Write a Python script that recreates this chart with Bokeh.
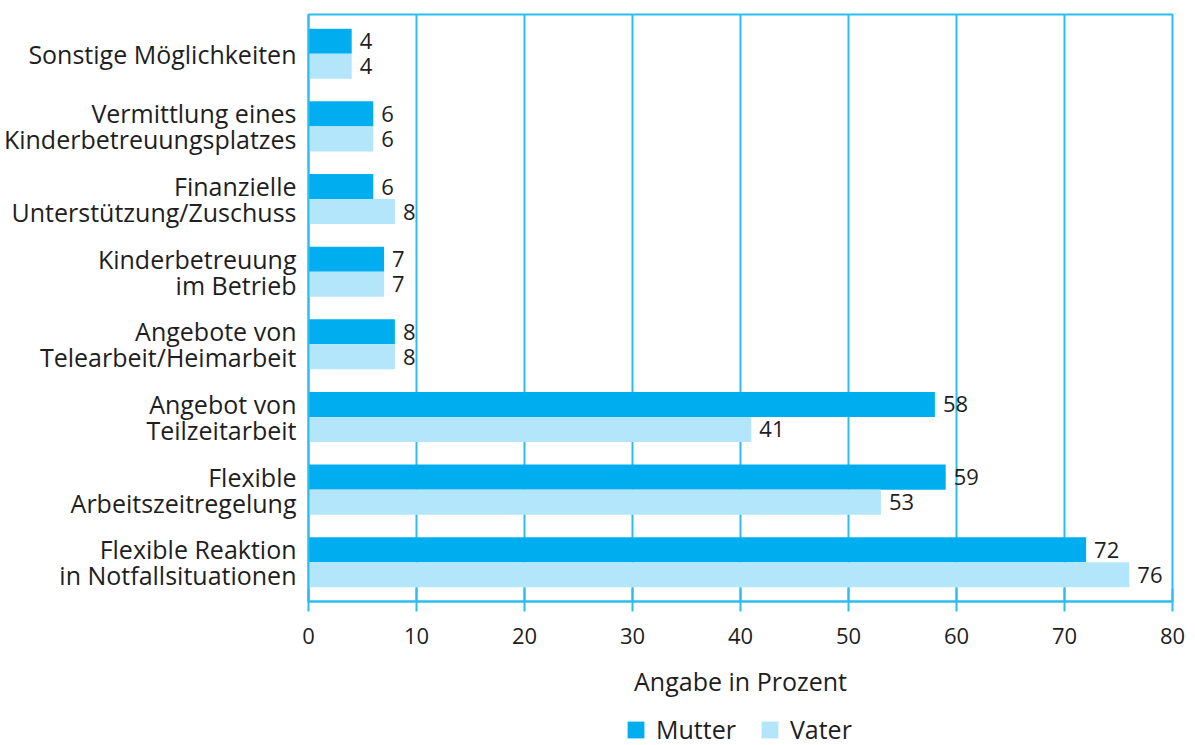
from bokeh.plotting import figure
from bokeh.layouts import column
from bokeh.models import ColumnDataSource, FactorRange, Legend, LegendItem, Range1d
from bokeh.transform import dodge
from bokeh.core.properties import value
from bokeh.embed import file_html
from bokeh.resources import INLINE

categories = [
    "Sonstige Möglichkeiten",
    "Vermittlung eines\nKinderbetreuungsplatzes",
    "Finanzielle\nUnterstützung/Zuschuss",
    "Kinderbetreuung\nim Betrieb",
    "Angebote von\nTelearbeit/Heimarbeit",
    "Angebot von\nTeilzeitarbeit",
    "Flexible\nArbeitszeitregelung",
    "Flexible Reaktion\nin Notfallsituationen",
]
mutter = [4, 6, 6, 7, 8, 58, 59, 72]
vater = [4, 6, 8, 7, 8, 41, 53, 76]
x_ticks = [0, 10, 20, 30, 40, 50, 60, 70, 80]
series_names = ["Mutter", "Vater"]

FONT = "Open Sans"
BLUE = "#00AEEF"
LIGHT = "#B3E6FB"
LINE = "#2CBDF0"
TXT = "#1e1e1e"
TEXT_SIZE = "25px"
NUM_SIZE = "22px"

src = ColumnDataSource(dict(
    cat=categories,
    mutter=mutter,
    vater=vater,
    mlab=[str(v) for v in mutter],
    vlab=[str(v) for v in vater],
))

p = figure(
    frame_width=864, frame_height=587,
    y_range=FactorRange(factors=list(reversed(categories)), range_padding=0.01),
    x_range=Range1d(0, 80),
    output_backend="svg", toolbar_location=None,
    min_border_left=308, min_border_right=15, min_border_top=14, min_border_bottom=112,
)

r_m = p.hbar(y=dodge("cat", 0.172, range=p.y_range), right="mutter", left=0, height=0.345,
             source=src, fill_color=BLUE, line_color=None)
r_v = p.hbar(y=dodge("cat", -0.172, range=p.y_range), right="vater", left=0, height=0.345,
             source=src, fill_color=LIGHT, line_color=None)

p.text(x="mutter", y=dodge("cat", 0.172, range=p.y_range), text="mlab", source=src,
       x_offset=8, text_baseline="middle", text_align="left",
       text_font=value(FONT), text_font_size=NUM_SIZE, text_color=TXT)
p.text(x="vater", y=dodge("cat", -0.172, range=p.y_range), text="vlab", source=src,
       x_offset=8, text_baseline="middle", text_align="left",
       text_font=value(FONT), text_font_size=NUM_SIZE, text_color=TXT)

# axes
xa = p.xaxis[0]
xa.ticker = x_ticks
xa.axis_line_color = LINE
xa.axis_line_width = 2
xa.major_tick_line_color = LINE
xa.major_tick_line_width = 2
xa.major_tick_in = 13
xa.major_tick_out = 10
xa.minor_tick_line_color = None
xa.major_label_text_font = FONT
xa.major_label_text_font_size = NUM_SIZE
xa.major_label_text_color = TXT
xa.major_label_standoff = 16
xa.axis_label = "Angabe in Prozent"
xa.axis_label_text_font = FONT
xa.axis_label_text_font_size = TEXT_SIZE
xa.axis_label_text_font_style = "normal"
xa.axis_label_text_color = TXT
xa.axis_label_standoff = 17

ya = p.yaxis[0]
ya.axis_line_color = LINE
ya.axis_line_width = 2
ya.major_tick_line_color = None
ya.minor_tick_line_color = None
ya.major_label_text_font = FONT
ya.major_label_text_font_size = TEXT_SIZE
ya.major_label_text_color = TXT
ya.major_label_text_line_height = 0.76
ya.major_label_standoff = 6

p.ygrid.grid_line_color = None
p.xgrid.grid_line_color = LINE
p.xgrid.grid_line_width = 2
p.xgrid.ticker = x_ticks

p.outline_line_color = LINE
p.outline_line_width = 2
p.background_fill_color = "white"
p.border_fill_color = "white"

# legend strip below the chart
lf = figure(width=1187, height=32, x_range=Range1d(0, 1), y_range=Range1d(0, 1),
            output_backend="svg", toolbar_location=None,
            x_axis_location=None, y_axis_location=None,
            min_border_left=0, min_border_right=0, min_border_top=0, min_border_bottom=0)
lf.grid.visible = False
lf.outline_line_color = None
lf.background_fill_color = "white"
lf.border_fill_color = "white"
d_m = lf.hbar(y=[5], right=[6], left=[5], height=0.5, fill_color=BLUE, line_color=None)
d_v = lf.hbar(y=[5], right=[6], left=[5], height=0.5, fill_color=LIGHT, line_color=None)

legend = Legend(items=[LegendItem(label=series_names[0], renderers=[d_m]),
                       LegendItem(label=series_names[1], renderers=[d_v])],
                orientation="horizontal", location=(317, -1),
                label_text_font=FONT, label_text_font_size=TEXT_SIZE, label_text_color=TXT,
                glyph_width=21, glyph_height=21, spacing=23, label_standoff=10,
                border_line_color=None, background_fill_alpha=0, padding=0, margin=0)
lf.add_layout(legend, "center")

layout = column(p, lf, spacing=0)
open("out.html", "w").write(file_html(layout, INLINE))
